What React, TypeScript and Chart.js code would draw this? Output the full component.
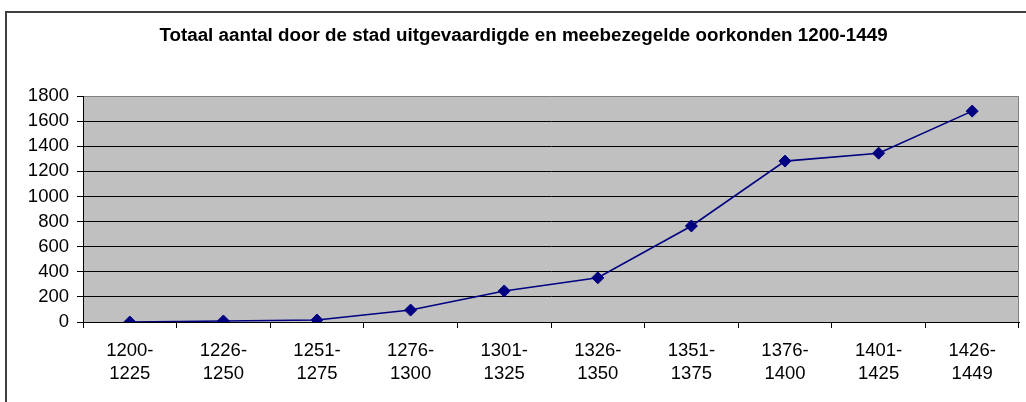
import React, { useEffect, useRef } from "react";
import { Chart, registerables } from "chart.js";

Chart.register(...registerables);

const TITLE = "Totaal aantal door de stad uitgevaardigde en meebezegelde oorkonden 1200-1449";
const categories: string[][] = [
  ["1200-", "1225"],
  ["1226-", "1250"],
  ["1251-", "1275"],
  ["1276-", "1300"],
  ["1301-", "1325"],
  ["1326-", "1350"],
  ["1351-", "1375"],
  ["1376-", "1400"],
  ["1401-", "1425"],
  ["1426-", "1449"],
];
const totals: number[] = [0, 8, 16, 95, 247, 352, 765, 1282, 1345, 1680];
const yMin = 0;
const yMax = 1800;
const yStep = 200;

const W = 1026;
const H = 402;
const FONT = "'Liberation Sans', Arial, sans-serif";

const framePlugin = {
  id: "frame",
  beforeDraw(chart: any) {
    const { ctx, chartArea } = chart;
    ctx.save();
    ctx.fillStyle = "#ffffff";
    ctx.fillRect(0, 0, chart.width, chart.height);
    ctx.strokeStyle = "#404040";
    ctx.lineWidth = 2;
    ctx.strokeRect(6, 12, chart.width + 10, chart.height + 10);
    ctx.fillStyle = "#C0C0C0";
    ctx.fillRect(chartArea.left, chartArea.top, chartArea.right - chartArea.left, chartArea.bottom - chartArea.top);
    ctx.restore();
  },
  beforeDatasetsDraw(chart: any) {
    const { ctx, chartArea } = chart;
    ctx.save();
    ctx.strokeStyle = "#808080";
    ctx.lineWidth = 1;
    ctx.beginPath();
    ctx.moveTo(Math.round(chartArea.right) - 0.5, chartArea.top);
    ctx.lineTo(Math.round(chartArea.right) - 0.5, chartArea.bottom);
    ctx.stroke();
    ctx.restore();
  },
};

export default function App() {
  const ref = useRef<HTMLCanvasElement>(null);
  useEffect(() => {
    if (!ref.current) return;
    const chart = new Chart(ref.current, {
      type: "line",
      data: {
        labels: categories,
        datasets: [
          {
            data: totals,
            borderColor: "#000080",
            backgroundColor: "#000080",
            borderWidth: 1.6,
            pointStyle: "rectRot",
            pointRadius: 6,
            pointBorderWidth: 1,
            pointBackgroundColor: "#000080",
            pointBorderColor: "#000080",
            tension: 0,
            fill: false,
          },
        ],
      },
      options: {
        responsive: false,
        animation: false,
        devicePixelRatio: 1,
        layout: { padding: { left: 24, right: 3, top: 0, bottom: 0 } },
        plugins: {
          legend: { display: false },
          tooltip: { enabled: false },
          title: {
            display: true,
            text: TITLE,
            color: "#000000",
            font: { family: FONT, size: 18.8, weight: "bold", lineHeight: 1.2 },
            padding: { top: 25, bottom: 48.5 },
          },
        },
        scales: {
          x: {
            type: "category",
            offset: true,
            grid: {
              offset: true,
              drawOnChartArea: false,
              drawTicks: true,
              tickLength: 6,
              tickColor: "#000000",
              color: "#000000",
            },
            border: { display: true, color: "#000000", width: 1 },
            ticks: {
              color: "#000000",
              padding: 11,
              maxRotation: 0,
              autoSkip: false,
              font: { family: FONT, size: 18.5, lineHeight: 1.27 },
            },
            afterFit(scale: any) {
              scale.height = 80;
            },
          },
          y: {
            min: yMin,
            max: yMax,
            grid: {
              color: (c: any) => (c.tick && c.tick.value === yMax ? "#808080" : "#000000"),
              tickColor: "#000000",
              tickLength: 6,
              lineWidth: 1,
            },
            border: { display: true, color: "#000000", width: 1 },
            ticks: {
              stepSize: yStep,
              autoSkip: false,
              color: "#000000",
              padding: 8,
              font: { family: FONT, size: 18.5 },
              callback: (v: any) => String(v),
            },
            afterFit(scale: any) {
              scale.width = 59;
            },
          },
        },
      },
      plugins: [framePlugin],
    });
    return () => chart.destroy();
  }, []);
  return (
    <div style={{ position: "absolute", left: 0, top: 0, width: W, height: H, background: "#fff" }}>
      <canvas ref={ref} width={W} height={H} style={{ width: W, height: H, display: "block" }} />
    </div>
  );
}
